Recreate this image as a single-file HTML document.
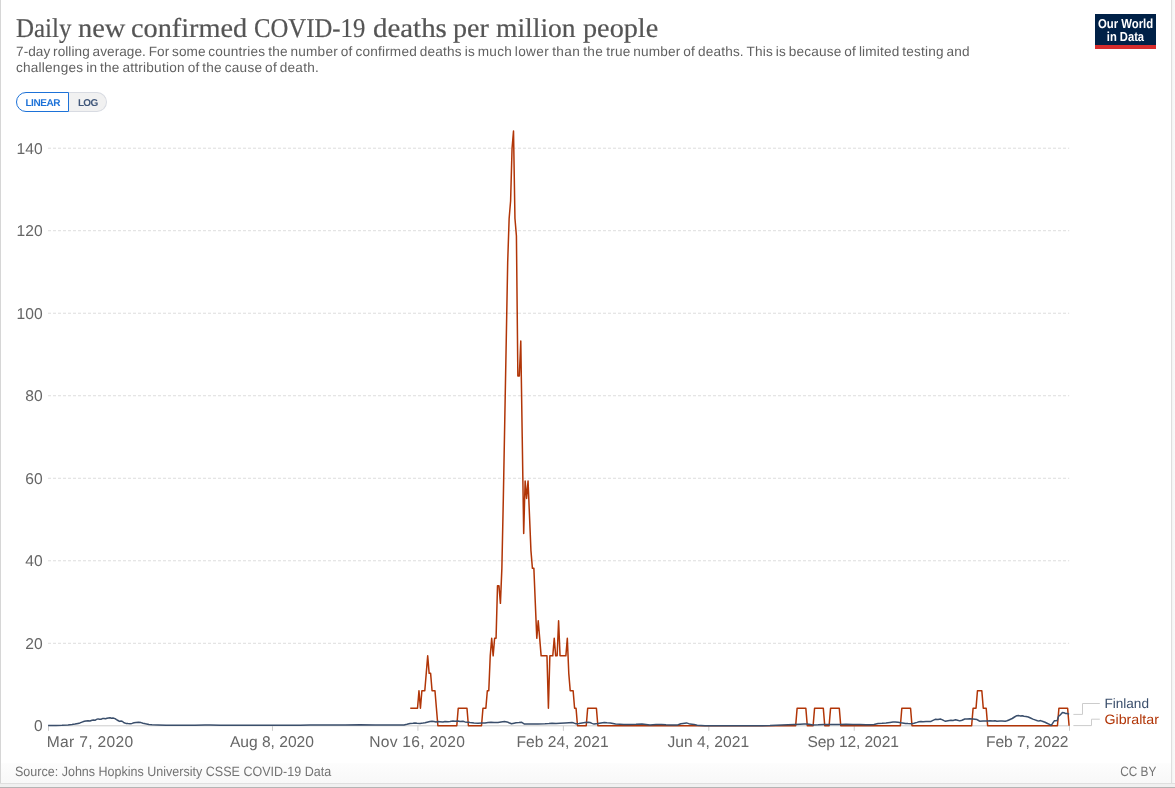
<!DOCTYPE html>
<html lang="en">
<head>
<meta charset="utf-8">
<title>Daily new confirmed COVID-19 deaths per million people</title>
<style>
html,body{margin:0;padding:0;}
body,svg text{text-rendering:geometricPrecision;}
body{width:1175px;height:788px;overflow:hidden;background:#f0f0f0;font-family:"Liberation Sans",sans-serif;position:relative;}
.frame{position:absolute;left:0;top:0;width:1171px;height:783px;background:#fff;border-right:1px solid #dedede;box-sizing:content-box;}
.edge-b0{position:absolute;left:0;top:783px;width:1175px;height:1px;background:#dfdfdf;}
.edge-l{position:absolute;left:0;top:0;width:1px;height:783px;background:#d6d6d6;}
.edge-b{position:absolute;left:0;top:787px;width:1175px;height:1px;background:#b4b4b4;}
.footbg{position:absolute;left:1px;top:763px;width:1170px;height:20px;background:linear-gradient(to bottom,#fdfdfd,#f8f8f8);}
.edge-r{position:absolute;left:1172px;top:0;width:3px;height:783px;background:linear-gradient(to right,#f3f3f3,#fafafa);}
h1{position:absolute;left:0;top:11px;width:700px;height:34px;margin:0;font-family:"Liberation Serif",serif;font-weight:normal;font-size:27.2px;line-height:34px;color:#555;-webkit-text-stroke:0.2px #555;white-space:nowrap;}
h1 span{position:absolute;top:0;display:block;transform-origin:left center;}
.sub{position:absolute;left:16px;top:43.6px;margin:0;font-size:13.6px;line-height:16.3px;color:#616161;word-spacing:-1.1px;letter-spacing:0.185px;white-space:nowrap;}
.logo{position:absolute;left:1095px;top:14px;width:61px;height:31px;background:#002147;border-bottom:4px solid #d72c2c;color:#fff;font-weight:bold;font-size:12.6px;line-height:13.3px;text-align:center;box-sizing:content-box;}
.logo span{display:block;white-space:nowrap;}
.toggle{position:absolute;left:16px;top:92px;height:20px;display:flex;font-size:10px;font-weight:bold;line-height:18px;}
.toggle div{box-sizing:border-box;height:20px;text-align:center;padding-top:2px;}
.tl{width:53px;border:1px solid #1d72d8;border-radius:10px 0 0 10px;color:#1d72d8;background:#fff;padding-left:0.5px;letter-spacing:-0.42px;}
.tr{width:38px;border:1px solid #d8dbe2;border-left:none;border-radius:0 10px 10px 0;color:#40577a;background:#f1f1f1;padding-left:0.5px;letter-spacing:-0.72px;}
svg{position:absolute;left:0;top:0;}
.src{position:absolute;left:15.4px;top:764.3px;font-size:13.5px;line-height:16px;color:#737373;white-space:nowrap;transform:scaleX(0.928);transform-origin:left center;}
.cc{position:absolute;right:19.2px;top:764.3px;font-size:13.5px;line-height:16px;color:#737373;white-space:nowrap;transform:scaleX(0.875);transform-origin:right center;}
</style>
</head>
<body>
<div class="frame"></div>
<div class="footbg"></div>
<div class="edge-l"></div>
<div class="edge-r"></div>
<div class="edge-b0"></div>
<div class="edge-b"></div>
<h1><span style="left:16.18px;transform:scaleX(0.9186)">Daily</span> <span style="left:78.35px;transform:scaleX(1.0455)">new</span> <span style="left:131.46px;transform:scaleX(1.0400)">confirmed</span> <span style="left:254.39px;transform:scaleX(0.9100)">COVID-19</span> <span style="left:372.64px;transform:scaleX(1.0632)">deaths</span> <span style="left:453.07px;transform:scaleX(1.0324)">per</span> <span style="left:496.39px;transform:scaleX(1.0130)">million</span> <span style="left:582.56px;transform:scaleX(1.0380)">people</span></h1>
<p class="sub"><span style="letter-spacing:0.065px">7-day rolling average. For some </span><span style="letter-spacing:0.205px">countries the number of confirmed deaths is much </span><span style="letter-spacing:0.375px">lower than the </span>true number of deaths. This is because of limited testing and<br><span style="letter-spacing:0.225px">challenges in the attribution of the cause of death.</span></p>
<div class="logo"><svg width="61" height="31" viewBox="0 0 61 31" style="position:static;display:block" font-family="'Liberation Sans', sans-serif" font-weight="bold" font-size="13" fill="#fff"><text x="2.9" y="13.7" textLength="55.3" lengthAdjust="spacingAndGlyphs">Our World</text><text x="11.8" y="27" textLength="37.3" lengthAdjust="spacingAndGlyphs">in Data</text></svg></div>
<div class="toggle"><div class="tl">LINEAR</div><div class="tr">LOG</div></div>
<svg width="1175" height="788" viewBox="0 0 1175 788" font-family="'Liberation Sans', sans-serif">
<g stroke="#ddd" stroke-width="1" stroke-dasharray="3,2" fill="none"><line x1="48" x2="1069.2" y1="643.29" y2="643.29"/><line x1="48" x2="1069.2" y1="560.77" y2="560.77"/><line x1="48" x2="1069.2" y1="478.26" y2="478.26"/><line x1="48" x2="1069.2" y1="395.74" y2="395.74"/><line x1="48" x2="1069.2" y1="313.23" y2="313.23"/><line x1="48" x2="1069.2" y1="230.72" y2="230.72"/><line x1="48" x2="1069.2" y1="148.20" y2="148.20"/></g>
<g font-size="15.6" fill="#666" letter-spacing="0.1"><text x="42.9" y="731.30" text-anchor="end">0</text><text x="42.9" y="648.79" text-anchor="end">20</text><text x="42.9" y="566.27" text-anchor="end">40</text><text x="42.9" y="483.76" text-anchor="end">60</text><text x="42.9" y="401.24" text-anchor="end">80</text><text x="42.9" y="318.73" text-anchor="end">100</text><text x="42.9" y="236.22" text-anchor="end">120</text><text x="42.9" y="153.70" text-anchor="end">140</text></g>
<line x1="48.5" x2="1069.5" y1="725.80" y2="725.80" stroke="#ccc" stroke-width="1"/>
<g stroke="#ccc" stroke-width="1"><line x1="48.50" x2="48.50" y1="725.80" y2="730.80"/><line x1="272.48" x2="272.48" y1="725.80" y2="730.80"/><line x1="417.92" x2="417.92" y1="725.80" y2="730.80"/><line x1="563.36" x2="563.36" y1="725.80" y2="730.80"/><line x1="708.80" x2="708.80" y1="725.80" y2="730.80"/><line x1="854.24" x2="854.24" y1="725.80" y2="730.80"/><line x1="1069.49" x2="1069.49" y1="725.80" y2="730.80"/></g>
<g font-size="15.6" fill="#666"><text x="46.68" y="747" textLength="86.58" lengthAdjust="spacing">Mar 7, 2020</text><text x="229.92" y="747" textLength="83.98" lengthAdjust="spacing">Aug 8, 2020</text><text x="369.22" y="747" textLength="95.68" lengthAdjust="spacing">Nov 16, 2020</text><text x="516.40" y="747" textLength="92.22" lengthAdjust="spacing">Feb 24, 2021</text><text x="667.38" y="747" textLength="81.70" lengthAdjust="spacing">Jun 4, 2021</text><text x="807.40" y="747" textLength="91.50" lengthAdjust="spacing">Sep 12, 2021</text><text x="986.04" y="747" textLength="82.40" lengthAdjust="spacing">Feb 7, 2022</text></g>
<path d="M410.25,708.31 L417.52,708.31 L418.97,690.81 L420.43,708.31 L421.88,690.81 L424.79,690.81 L426.24,673.32 L427.70,655.83 L429.15,673.32 L430.61,673.32 L432.06,690.81 L434.97,690.81 L436.42,708.31 L437.88,725.80 L456.79,725.80 L458.24,708.31 L466.97,708.31 L468.42,725.80 L481.51,725.80 L482.97,708.31 L485.87,708.31 L487.33,690.81 L488.78,690.81 L490.24,655.83 L491.69,638.34 L493.15,655.83 L494.60,638.34 L496.06,638.34 L497.51,585.86 L498.96,585.86 L500.42,603.35 L501.87,568.36 L503.33,498.39 L504.78,419.67 L506.24,340.95 L507.69,262.24 L509.14,218.50 L510.60,201.01 L512.05,148.53 L513.51,131.04 L514.96,218.50 L516.42,236.00 L517.87,375.94 L519.33,375.94 L520.78,340.95 L522.23,437.17 L523.69,533.38 L525.14,480.90 L526.60,498.39 L528.05,480.90 L529.51,515.88 L530.96,550.87 L532.42,568.36 L533.87,568.36 L535.32,603.35 L536.78,638.34 L538.23,620.84 L539.69,638.34 L541.14,655.83 L546.96,655.83 L548.41,708.31 L549.87,655.83 L552.78,655.83 L554.23,638.34 L555.69,655.83 L557.14,655.83 L558.59,620.84 L560.05,655.83 L565.87,655.83 L567.32,638.34 L568.78,673.32 L570.23,690.81 L573.14,690.81 L574.59,708.31 L576.05,708.31 L577.50,725.80 L586.23,725.80 L587.68,708.31 L596.41,708.31 L597.86,725.80 L795.66,725.80 L797.12,708.31 L805.84,708.31 L807.30,725.80 L813.11,725.80 L814.57,708.31 L823.30,708.31 L824.75,725.80 L829.11,725.80 L830.57,708.31 L839.29,708.31 L840.75,725.80 L900.38,725.80 L901.83,708.31 L910.56,708.31 L912.01,725.80 L971.64,725.80 L973.10,708.31 L976.01,708.31 L977.46,690.81 L981.82,690.81 L983.28,708.31 L986.19,708.31 L987.64,725.80 L1057.45,725.80 L1058.91,708.31 L1067.63,708.31 L1069.09,725.80" fill="none" stroke="#b13507" stroke-width="1.5" stroke-linejoin="round" stroke-linecap="butt"/>
<path d="M48.1,725.5 L56.0,725.4 L62.0,725.3 L68.0,725.0 L72.0,724.6 L75.0,724.1 L78.0,723.4 L80.0,722.9 L82.0,722.1 L84.3,721.3 L86.0,721.0 L88.0,720.8 L90.0,721.0 L92.0,720.3 L93.5,720.0 L95.0,720.3 L96.5,719.4 L98.0,718.9 L99.5,719.3 L101.0,719.2 L102.5,718.6 L104.0,718.5 L105.5,718.8 L107.0,718.3 L108.5,718.0 L110.0,717.7 L111.5,718.2 L113.0,718.0 L115.0,718.6 L116.5,719.6 L118.0,720.5 L119.5,721.4 L121.0,721.0 L122.5,721.5 L124.0,722.8 L126.0,723.4 L128.0,723.6 L130.0,723.7 L132.0,723.4 L134.0,722.8 L136.0,722.5 L138.5,722.3 L141.0,722.6 L143.0,723.2 L145.5,723.8 L149.0,724.4 L152.0,724.8 L158.0,725.0 L166.0,725.2 L180.0,725.3 L195.0,725.2 L205.0,724.9 L210.0,724.9 L220.0,725.2 L240.0,725.3 L270.0,725.3 L300.0,725.3 L310.0,725.1 L330.0,724.9 L345.0,725.0 L360.0,724.8 L375.0,725.0 L390.0,724.9 L400.0,725.0 L404.0,724.9 L407.0,724.3 L410.0,723.6 L413.0,723.3 L415.0,722.9 L417.0,723.2 L420.0,723.4 L423.0,723.1 L425.0,722.8 L428.0,722.0 L430.0,721.5 L432.0,721.2 L434.0,721.5 L436.0,721.9 L438.0,721.6 L440.0,721.7 L443.0,721.9 L445.0,721.4 L448.0,721.7 L450.0,721.6 L453.0,721.1 L455.0,721.2 L458.0,721.0 L460.0,721.5 L463.0,721.3 L465.0,721.9 L468.0,722.3 L470.0,722.6 L474.0,723.0 L478.0,723.2 L482.0,723.1 L485.0,723.0 L488.0,722.6 L491.0,722.3 L494.0,722.6 L498.0,722.4 L501.0,721.9 L504.5,721.6 L507.0,721.9 L509.0,722.8 L511.5,723.7 L514.0,723.2 L516.0,722.8 L519.0,722.6 L521.7,722.3 L523.0,723.2 L524.5,724.1 L528.0,724.1 L532.0,724.0 L538.0,723.9 L545.0,723.8 L549.0,723.5 L552.0,723.2 L556.0,723.6 L560.0,723.3 L565.0,722.9 L569.0,722.7 L572.0,722.6 L574.0,723.1 L576.0,723.7 L579.0,723.4 L582.0,723.0 L585.0,722.6 L588.0,722.3 L590.0,722.5 L592.0,723.4 L594.0,724.1 L598.0,723.6 L601.0,722.9 L604.3,722.4 L607.0,722.7 L610.4,722.9 L613.0,723.5 L615.5,724.1 L620.0,724.3 L623.7,724.5 L630.0,724.5 L636.0,724.3 L642.0,723.9 L646.0,724.4 L650.0,724.9 L656.0,724.6 L661.5,724.4 L666.0,724.8 L670.7,725.1 L675.0,725.0 L677.8,724.9 L679.5,724.2 L680.9,723.7 L683.0,723.4 L686.5,722.9 L688.0,723.4 L690.0,724.1 L694.0,724.4 L697.2,725.3 L705.0,725.7 L720.0,725.7 L740.0,725.7 L760.0,725.7 L770.0,725.6 L776.0,725.3 L782.0,725.1 L788.0,724.8 L794.0,724.5 L800.0,724.2 L804.0,724.0 L806.0,723.9 L809.0,724.3 L813.0,724.9 L818.0,724.8 L824.0,724.5 L830.0,724.6 L836.0,724.4 L840.0,724.6 L846.0,724.3 L853.0,724.4 L860.0,724.5 L866.0,724.7 L870.0,724.7 L874.0,724.4 L878.0,723.6 L882.0,723.3 L886.0,722.9 L890.0,722.4 L893.0,722.1 L895.3,721.9 L898.0,722.3 L901.0,722.8 L905.5,723.4 L908.0,723.6 L911.7,723.7 L914.0,723.2 L917.0,722.4 L919.0,721.8 L920.9,721.4 L923.0,721.7 L926.0,721.5 L929.0,721.6 L931.0,721.4 L933.0,720.4 L935.2,719.3 L938.0,719.4 L940.3,719.0 L942.0,719.6 L944.0,720.6 L945.4,721.2 L948.0,720.7 L951.0,720.3 L953.0,720.4 L955.6,719.8 L957.5,720.3 L959.7,720.9 L962.0,720.2 L964.8,719.0 L967.0,719.1 L969.9,718.8 L973.0,719.0 L977.0,719.6 L978.5,720.5 L979.6,721.2 L983.0,721.0 L987.2,720.9 L990.0,720.8 L993.0,720.9 L995.0,720.7 L996.9,721.2 L1000.0,721.0 L1002.0,721.1 L1005.3,721.2 L1007.0,720.8 L1008.4,720.2 L1010.0,719.5 L1012.2,718.5 L1014.5,717.0 L1016.8,715.7 L1018.5,715.5 L1020.0,715.9 L1022.2,715.8 L1024.0,716.3 L1026.0,716.6 L1028.3,717.0 L1030.5,718.0 L1032.9,719.1 L1035.0,719.9 L1037.5,720.8 L1039.0,720.9 L1040.5,720.6 L1043.0,721.5 L1045.1,722.3 L1047.0,723.2 L1049.0,724.1 L1050.9,725.4 L1052.4,723.7 L1053.4,722.2 L1054.3,720.8 L1055.8,720.7 L1057.2,720.6 L1057.9,718.3 L1058.5,716.4 L1059.5,715.5 L1060.4,714.9 L1061.5,713.5 L1062.4,712.6 L1063.9,712.7 L1065.4,713.4 L1067.7,713.6 L1069.1,714.3" fill="none" stroke="#3a4e6b" stroke-width="1.5" stroke-linejoin="round" stroke-linecap="butt"/>
<g fill="none" stroke="#ccc" stroke-width="1">
<path d="M1073.4,714.4 H1082.5 V703.5 H1099.8"/>
<path d="M1073.4,725.6 H1091.5 V719.2 H1099.8"/>
</g>
<g font-size="13.6">
<text x="1104.4" y="707.8" fill="#3a4e6b" textLength="44.6" lengthAdjust="spacingAndGlyphs">Finland</text>
<text x="1104.4" y="724" fill="#b13507" textLength="54.6" lengthAdjust="spacingAndGlyphs">Gibraltar</text>
</g>
</svg>
<div class="src">Source: Johns Hopkins University CSSE COVID-19 Data</div>
<div class="cc">CC BY</div>
</body>
</html>
